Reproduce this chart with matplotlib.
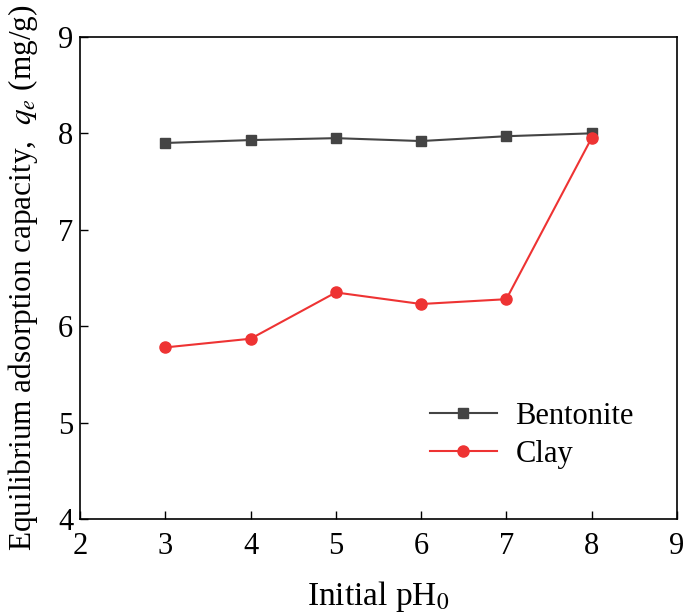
import matplotlib.pyplot as plt

ph = [3, 4, 5, 6, 7, 8]
bentonite = [7.90, 7.93, 7.95, 7.92, 7.97, 8.00]
clay = [5.78, 5.87, 6.35, 6.23, 6.28, 7.95]

plt.rcParams['font.family'] = ['Liberation Serif', 'DejaVu Serif']
plt.rcParams['mathtext.fontset'] = 'stix'

fig = plt.figure(figsize=(6.85, 6.15), dpi=100)
ax = fig.add_axes([0.117, 0.156, 0.871, 0.784])

ax.plot(ph, bentonite, color='#444444', marker='s', markersize=6.5, lw=1.5, label='Bentonite')
ax.plot(ph, clay, color='#ee3333', marker='o', markersize=8, lw=1.5, label='Clay')

ax.set_xlim(2, 9)
ax.set_ylim(4, 9)
ax.set_xticks(range(2, 10))
ax.set_yticks(range(4, 10))
ax.tick_params(direction='in', labelsize=22, length=6, width=1, top=False, right=False)
ax.tick_params(axis='x', pad=9)
ax.tick_params(axis='y', pad=5)
for s in ax.spines.values():
    s.set_linewidth(1.2)

ax.set_xlabel('Initial pH$_0$', fontsize=24, labelpad=13)
ax.set_ylabel('Equilibrium adsorption capacity,  $q_e$ (mg/g)', fontsize=22.5)
ax.yaxis.set_label_coords(-0.068, 0.5)

ax.legend(loc='upper left', bbox_to_anchor=(0.54, 0.3), frameon=False, fontsize=22,
          handlelength=2.2, labelspacing=0.3, handletextpad=0.6)

fig.savefig('out.png')
